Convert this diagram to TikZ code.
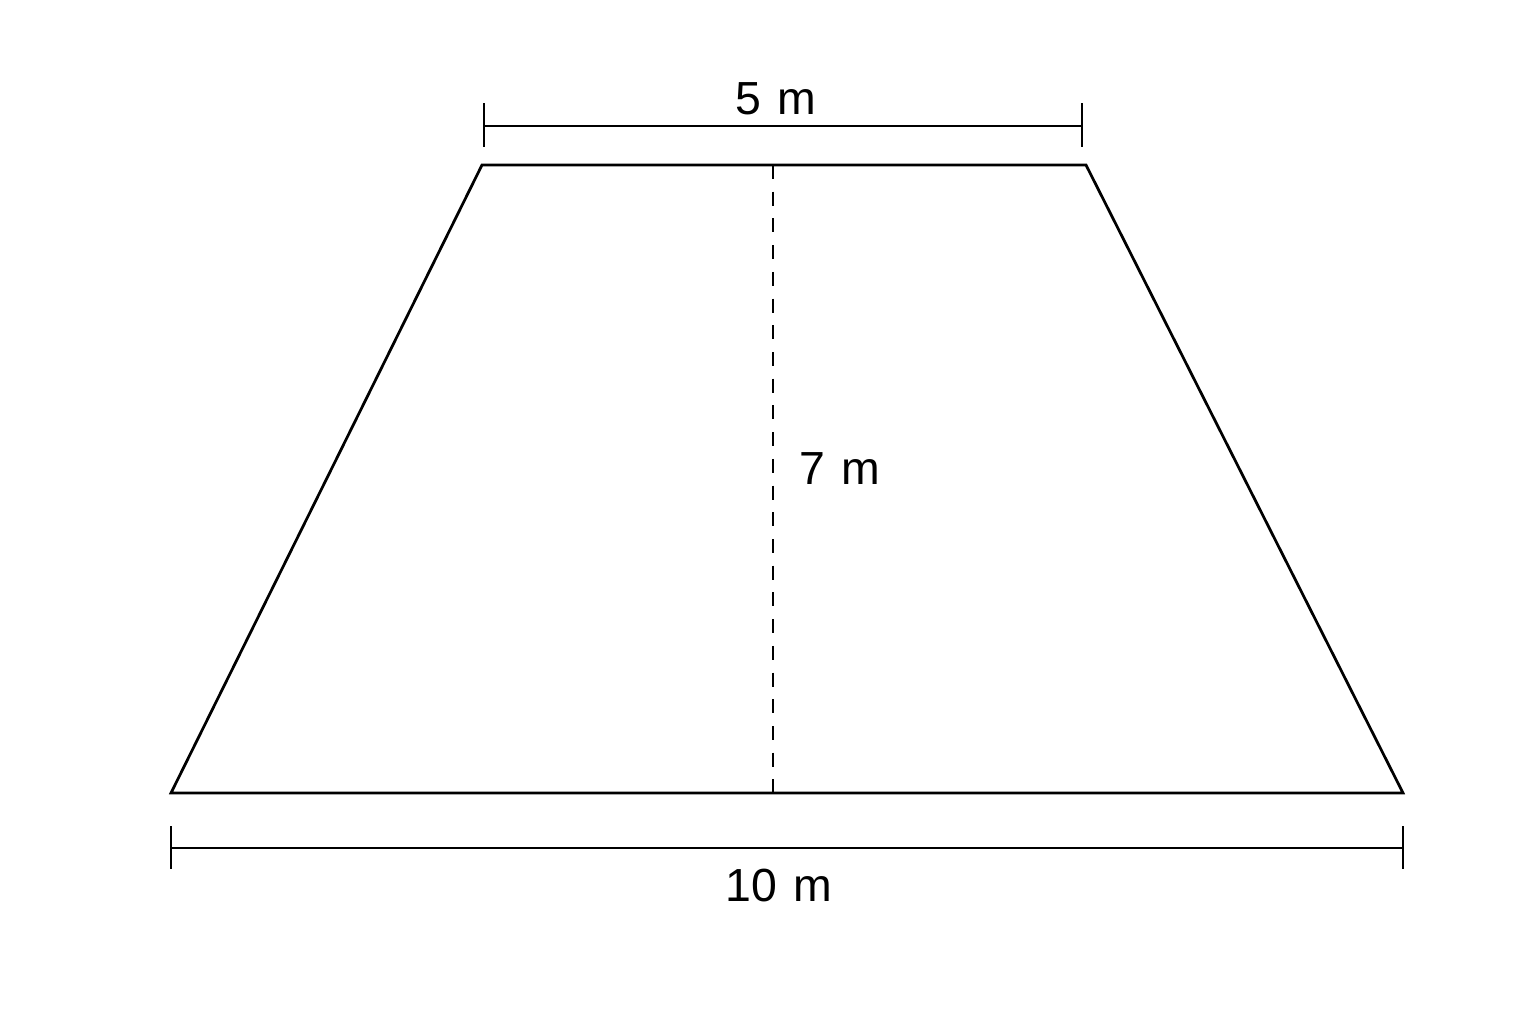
\documentclass[tikz,border=0pt]{standalone}
\usepackage{fontspec}
\setmainfont{Liberation Sans}
\usetikzlibrary{calc}
\begin{document}
\begin{tikzpicture}[x=0.01cm,y=-0.01cm,
  edge/.style={line width=0.78pt,black},
  dimline/.style={line width=0.78pt,black},
  heightline/.style={line width=0.78pt,black,dash pattern=on 0.14cm off 0.127cm},
  lbl/.style={font=\fontsize{13.2}{15}\selectfont,inner sep=0pt}]
\useasboundingbox (0,0) rectangle (1536,1024);
\fill[white] (0,0) rectangle (1536,1024);
% trapezoid corners
\coordinate (BL) at (171,793);
\coordinate (BR) at (1403,793);
\coordinate (TR) at (1086,165);
\coordinate (TL) at (482,165);
\coordinate (HT) at (773,165);
\coordinate (HB) at (773,793);
\draw[edge,line join=miter] (BL) -- (BR) -- (TR) -- (TL) -- cycle;
\draw[heightline] (HT) -- (HB);
% top dimension
\coordinate (T1) at (484,126);
\coordinate (T2) at (1082,126);
\draw[dimline] (T1) -- (T2);
\draw[dimline] ($(T1)+(0,-23)$) -- ($(T1)+(0,21)$);
\draw[dimline] ($(T2)+(0,-23)$) -- ($(T2)+(0,21)$);
% bottom dimension
\coordinate (B1) at (171,848);
\coordinate (B2) at (1403,848);
\draw[dimline] (B1) -- (B2);
\draw[dimline] ($(B1)+(0,-22)$) -- ($(B1)+(0,21)$);
\draw[dimline] ($(B2)+(0,-22)$) -- ($(B2)+(0,21)$);
% labels
\node[lbl] (top) at (776,99) {5\hspace{0.08em} m};
\node[lbl] (bot) at (779,886) {10\hspace{0.08em} m};
\node[lbl] (hgt) at (840,469) {7\hspace{0.08em} m};
\end{tikzpicture}
\end{document}
